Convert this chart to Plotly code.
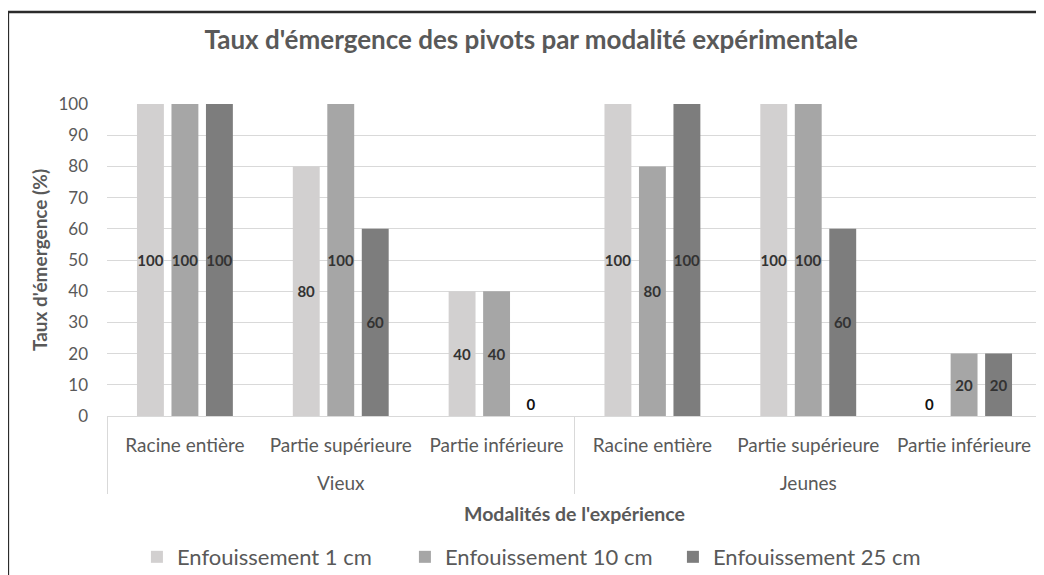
import plotly.graph_objects as go

# Data
groups = ["Vieux", "Vieux", "Vieux", "Jeunes", "Jeunes", "Jeunes"]
parts = ["Racine entière", "Partie supérieure", "Partie inférieure",
         "Racine entière", "Partie supérieure", "Partie inférieure"]
depth_1cm = [100, 80, 40, 100, 100, 0]
depth_10cm = [100, 100, 40, 80, 100, 20]
depth_25cm = [100, 60, 0, 100, 60, 20]

series = [
    ("Enfouissement 1 cm", depth_1cm, "#d2d0d0"),
    ("Enfouissement 10 cm", depth_10cm, "#a6a6a6"),
    ("Enfouissement 25 cm", depth_25cm, "#7d7d7d"),
]

FONT = "Lato, 'Open Sans', sans-serif"
GREY_TXT = "#595959"
GRID = "#d9d9d9"

# group labels pushed one line lower, like the Excel two-level axis
group_labels = ["<br>" + g for g in groups]

fig = go.Figure()
for name, vals, color in series:
    fig.add_trace(go.Bar(
        x=[group_labels, parts], y=vals, name=name,
        marker=dict(color=color, line=dict(width=0)),
        text=[str(v) for v in vals],
        # zero bars get their label just above the base line
        textposition=["outside" if v == 0 else "inside" for v in vals],
        insidetextanchor="middle",
        textangle=0, constraintext="none",
        textfont=dict(family=FONT, size=15, color="#333333", weight="bold"),
        outsidetextfont=dict(family=FONT, size=15, color="#111111", weight="bold"),
        cliponaxis=False,
    ))

# page body has an 8px margin, so the figure is a bit smaller than the window
fig.update_layout(
    width=1036, height=567,
    margin=dict(l=99, r=2, t=96, b=159, autoexpand=False),
    paper_bgcolor="white", plot_bgcolor="white",
    font=dict(family=FONT, color=GREY_TXT),
    barmode="group", bargap=0.336, bargroupgap=0.22,
    title=dict(
        text="<b>Taux d'émergence des pivots par modalité expérimentale</b>",
        x=0.505, xanchor="center", xref="container",
        y=0.944, yanchor="middle", yref="container",
        font=dict(size=26, color=GREY_TXT),
    ),
    legend=dict(
        orientation="h", x=0.032, xanchor="left",
        y=-0.452, yanchor="middle",
        font=dict(size=22, color=GREY_TXT),
        entrywidth=223, entrywidthmode="pixels",
        traceorder="normal",
    ),
    showlegend=True,
)

fig.update_yaxes(
    range=[0, 100], dtick=10, showgrid=True, gridcolor=GRID, gridwidth=1,
    zeroline=False, showline=False, automargin=False,
    tickfont=dict(size=17, color=GREY_TXT), ticklabelstandoff=18,
    title=dict(text="<b>Taux d'émergence (%)</b>", font=dict(size=19, color=GREY_TXT), standoff=5),
)
fig.update_xaxes(
    type="multicategory", showline=True, linecolor=GRID, linewidth=1,
    showdividers=True, dividercolor=GRID, dividerwidth=1, automargin=False,
    tickfont=dict(size=19, color=GREY_TXT), ticklabelstandoff=12,
    title=dict(text="<b>Modalités de l'expérience</b>", font=dict(size=19.5, color=GREY_TXT), standoff=14),
)

# outer frame of the chart
fig.add_shape(type="rect", xref="paper", yref="paper",
              x0=-0.106, x1=1.2, y0=-1.0, y1=1.295,
              line=dict(color="#2b2b2b", width=2.5), layer="below")

fig.write_html("out.html")
